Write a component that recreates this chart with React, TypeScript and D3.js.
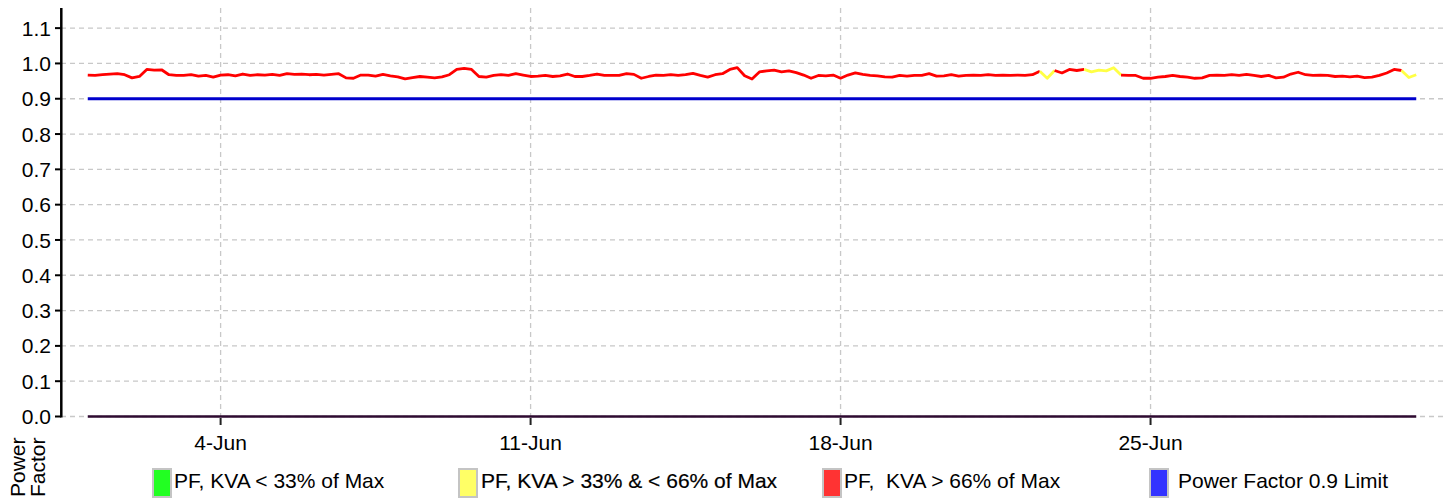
import * as d3 from 'd3'

// power factor readings, one every 4 hours from 1-Jun 00:00 to 1-Jul 00:00
const pfValues = [
  0.967, 0.966, 0.968, 0.970, 0.971, 0.968,
  0.959, 0.963, 0.983, 0.981, 0.982, 0.968,
  0.966, 0.966, 0.968, 0.964, 0.966, 0.961,
  0.967, 0.968, 0.965, 0.970, 0.966, 0.968,
  0.967, 0.969, 0.966, 0.971, 0.969, 0.970,
  0.968, 0.969, 0.967, 0.969, 0.971, 0.959,
  0.958, 0.967, 0.967, 0.964, 0.969, 0.965,
  0.962, 0.956, 0.960, 0.963, 0.961, 0.959,
  0.962, 0.968, 0.983, 0.986, 0.983, 0.963,
  0.961, 0.966, 0.968, 0.966, 0.971, 0.967,
  0.963, 0.964, 0.966, 0.963, 0.965, 0.970,
  0.963, 0.963, 0.966, 0.970, 0.966, 0.966,
  0.966, 0.971, 0.969, 0.958, 0.963, 0.967,
  0.966, 0.968, 0.966, 0.968, 0.972, 0.966,
  0.961, 0.968, 0.971, 0.983, 0.988, 0.965,
  0.956, 0.976, 0.979, 0.981, 0.976, 0.979,
  0.974, 0.967, 0.958, 0.966, 0.965, 0.967,
  0.958, 0.967, 0.973, 0.969, 0.966, 0.965,
  0.962, 0.961, 0.966, 0.964, 0.966, 0.966,
  0.971, 0.964, 0.965, 0.968, 0.964, 0.966,
  0.967, 0.966, 0.968, 0.966, 0.967, 0.966,
  0.967, 0.966, 0.968, 0.978, 0.958, 0.980,
  0.973, 0.983, 0.980, 0.983, 0.976, 0.981,
  0.979, 0.988, 0.967, 0.966, 0.966, 0.958,
  0.958, 0.961, 0.963, 0.966, 0.963, 0.961,
  0.958, 0.959, 0.966, 0.967, 0.966, 0.968,
  0.966, 0.969, 0.966, 0.963, 0.966, 0.959,
  0.961, 0.970, 0.975, 0.968, 0.966, 0.967,
  0.966, 0.963, 0.964, 0.962, 0.964, 0.960,
  0.961, 0.966, 0.973, 0.983, 0.980, 0.960,
  0.968,
]
// readings taken while KVA was between 33% and 66% of max (yellow)
const midLoadIdx = [130, 136, 137, 138, 139, 179, 180]
const limitValue = 0.9
const zeroValue = 0

const yTicks = [0, 0.1, 0.2, 0.3, 0.4, 0.5, 0.6, 0.7, 0.8, 0.9, 1.0, 1.1]
const xTickDates = ['2023-06-04', '2023-06-11', '2023-06-18', '2023-06-25']
const legendLabels = [
  'PF, KVA < 33% of Max',
  'PF, KVA > 33% & < 66% of Max',
  'PF,  KVA > 66% of Max',
  'Power Factor 0.9 Limit',
]
const legendColors = ['#22ff22', '#ffff66', '#ff3333', '#3333ff']

const START = Date.UTC(2023, 5, 1)
const STEP = 4 * 3600 * 1000
const FONT = '"Liberation Sans", Arial, Helvetica, sans-serif'

type Pt = { t: Date; v: number; mid: boolean }

export default function App() {
  const width = 1450
  const height = 500
  const left = 61
  const right = 1443
  const top = 8
  const bottom = 416.5

  const x = d3.scaleUtc()
    .domain([new Date(Date.UTC(2023, 4, 31, 9, 30)), new Date(Date.UTC(2023, 6, 1, 14, 30))])
    .range([left, right])
  const y = d3.scaleLinear().domain([0, 1.157]).range([bottom, top])

  const pts: Pt[] = pfValues.map((v, i) => ({ t: new Date(START + i * STEP), v, mid: midLoadIdx.includes(i) }))

  // split the pf line into coloured runs
  const runs: { color: string; pts: Pt[] }[] = []
  for (let i = 0; i < pts.length - 1; i++) {
    const color = pts[i].mid || pts[i + 1].mid ? '#ffff44' : '#ff0000'
    const last = runs[runs.length - 1]
    if (last && last.color === color) last.pts.push(pts[i + 1])
    else runs.push({ color, pts: [pts[i], pts[i + 1]] })
  }

  const line = d3.line<Pt>().x(d => x(d.t)).y(d => y(d.v))
  const flat = (val: number) => d3.line<Pt>().x(d => x(d.t)).y(() => y(val))(pts) || ''
  const fmtDate = d3.utcFormat('%-d-%b')
  const xTicks = xTickDates.map(s => new Date(s + 'T00:00:00Z'))

  const legendX = [152, 458, 822, 1149]
  const legendTextX = [174, 481, 844, 1178]

  return (
    <svg width={width} height={height}
      style={{ position: 'absolute', left: 0, top: 0, display: 'block', background: '#fff' }}
      fontFamily={FONT}>
      {/* grid */}
      {yTicks.map(t => (
        <line key={'gy' + t} x1={left} x2={right} y1={y(t)} y2={y(t)}
          stroke="#c8c8c8" strokeWidth={1.3} strokeDasharray="5,4" />
      ))}
      {xTicks.map(t => (
        <line key={'gx' + t.getTime()} x1={x(t)} x2={x(t)} y1={top} y2={bottom}
          stroke="#c8c8c8" strokeWidth={1.3} strokeDasharray="5,4" />
      ))}

      {/* series */}
      <path d={flat(zeroValue)} fill="none" stroke="#2e0a30" strokeWidth={2.5} />
      <path d={flat(limitValue)} fill="none" stroke="#0000cc" strokeWidth={3} />
      {runs.map((r, i) => (
        <path key={'r' + i} d={line(r.pts) || ''} fill="none" stroke={r.color}
          strokeWidth={2.8} strokeLinejoin="round" />
      ))}

      {/* y axis */}
      <line x1={61.3} x2={61.3} y1={top} y2={bottom + 1} stroke="#000" strokeWidth={2.5} />
      {yTicks.map(t => (
        <g key={'yt' + t}>
          <line x1={55} x2={61} y1={y(t)} y2={y(t)} stroke="#000" strokeWidth={2} />
          <text x={51} y={y(t)} dy="0.36em" textAnchor="end" fontSize={21} fill="#000">
            {t.toFixed(1)}
          </text>
        </g>
      ))}

      {/* x axis */}
      {xTicks.map(t => (
        <g key={'xt' + t.getTime()}>
          <line x1={x(t)} x2={x(t)} y1={418} y2={425} stroke="#222" strokeWidth={2} />
          <text x={x(t)} y={450} textAnchor="middle" fontSize={21} fill="#000">{fmtDate(t)}</text>
        </g>
      ))}

      {/* axis title */}
      <text transform="translate(25,497) rotate(-90)" fontSize={21} fill="#000">Power</text>
      <text transform="translate(45,497) rotate(-90)" fontSize={21} fill="#000">Factor</text>

      {/* legend */}
      {legendLabels.map((lab, i) => (
        <g key={'lg' + i}>
          <rect x={legendX[i] + 1} y={469} width={18} height={28} fill={legendColors[i]}
            stroke="#c4c4c4" strokeWidth={2} />
          <text x={legendTextX[i]} y={488} fontSize={21} fill="#000"
            stroke={i === 1 ? '#000' : 'none'} strokeWidth={i === 1 ? 0.2 : 0}
            style={{ whiteSpace: 'pre' }}>{lab}</text>
        </g>
      ))}
    </svg>
  )
}
